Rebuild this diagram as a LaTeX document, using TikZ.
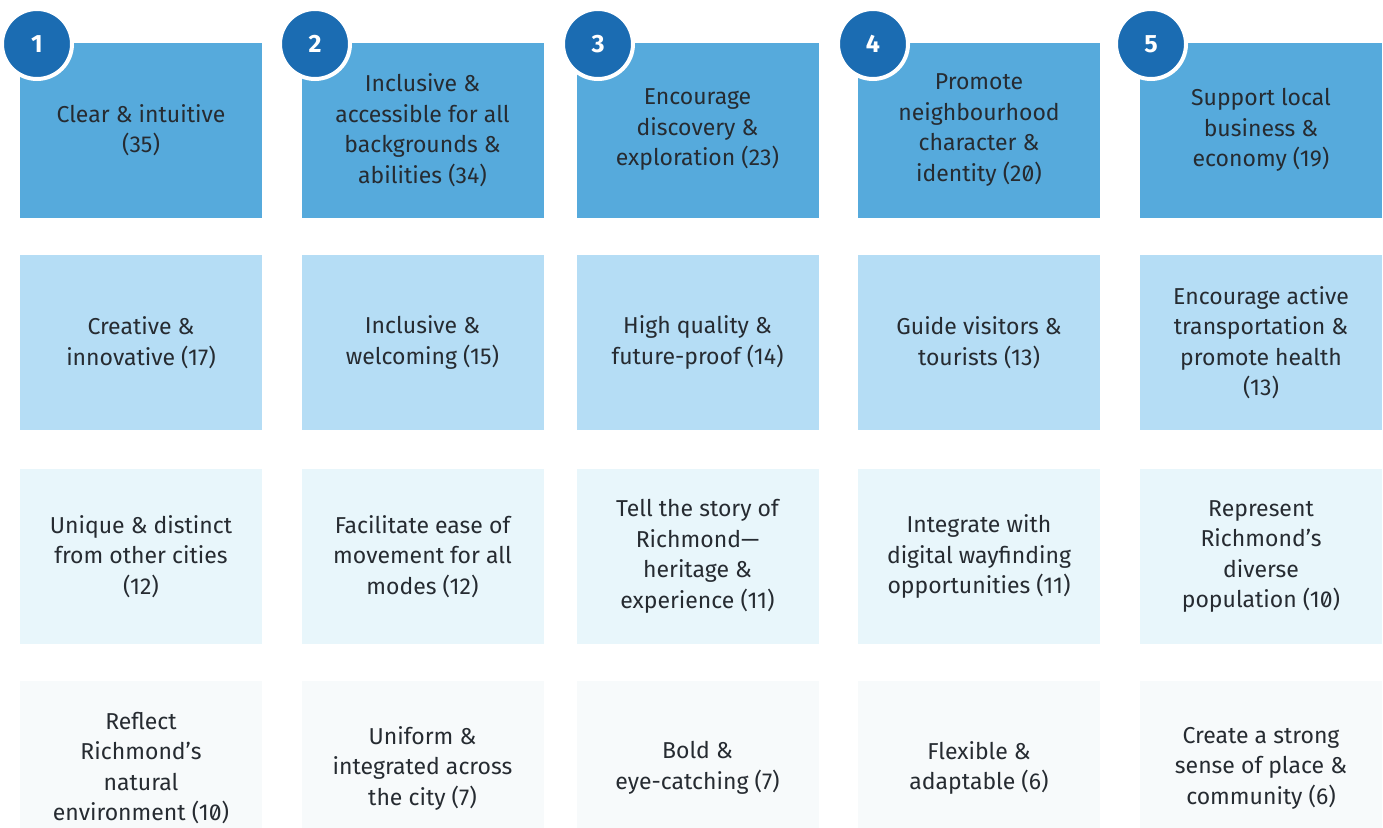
\documentclass[tikz,border=0pt]{standalone}
\usepackage{fontspec}
\setmainfont{Fira Sans}[RawFeature=+zero]
\definecolor{rowA}{HTML}{56AADC}
\definecolor{rowB}{HTML}{B5DDF5}
\definecolor{rowC}{HTML}{E8F6FB}
\definecolor{rowD}{HTML}{F7FAFB}
\definecolor{badge}{HTML}{1B6CB2}
\definecolor{ink}{HTML}{262B31}
\tikzset{
  cell/.style={rectangle, minimum width=242pt, minimum height=175pt, inner sep=0pt,
    align=center, text=ink, font=\fontsize{23}{30.5}\selectfont},
  badgenum/.style={circle, fill=badge, draw=white, line width=4pt, minimum size=70pt,
    inner sep=0pt, text=white, font=\fontsize{25}{25}\selectfont\bfseries}
}
\begin{document}
\begin{tikzpicture}[x=1pt,y=-1pt]
\useasboundingbox (0,0) rectangle (1383,827);
\fill[white] (0,0) rectangle (1383,827);

\node[cell, fill=rowA] (top1) at (141,130) {Clear \& intuitive\\(35)};
\node[cell, fill=rowA] (top2) at (422.5,130) {Inclusive \&\\accessible for all\\backgrounds \&\\abilities (34)};
\node[cell, fill=rowA] (top3) at (697.5,130) {Encourage\\discovery \&\\exploration (23)};
\node[cell, fill=rowA] (top4) at (979,130) {Promote\\neighbourhood\\character \&\\identity (20)};
\node[cell, fill=rowA] (top5) at (1261,130) {Support local\\business \&\\economy (19)};

\node[cell, fill=rowB] (mid1) at (141,342.5) {Creative \&\\innovative (17)};
\node[cell, fill=rowB] (mid2) at (422.5,342.5) {Inclusive \&\\welcoming (15)};
\node[cell, fill=rowB] (mid3) at (697.5,342.5) {High quality \&\\future-proof (14)};
\node[cell, fill=rowB] (mid4) at (979,342.5) {Guide visitors \&\\tourists (13)};
\node[cell, fill=rowB] (mid5) at (1261,342.5) {Encourage active\\transportation \&\\promote health\\(13)};

\node[cell, fill=rowC] (low1) at (141,556.5) {Unique \& distinct\\from other cities\\(12)};
\node[cell, fill=rowC] (low2) at (422.5,556.5) {Facilitate ease of\\movement for all\\modes (12)};
\node[cell, fill=rowC] (low3) at (697.5,556.5) {Tell the story of\\Richmond---\\heritage \&\\experience (11)};
\node[cell, fill=rowC] (low4) at (979,556.5) {Integrate with\\digital wayfinding\\opportunities (11)};
\node[cell, fill=rowC] (low5) at (1261,556.5) {Represent\\Richmond's\\diverse\\population (10)};

\node[cell, fill=rowD] (end1) at (141,768) {Reflect\\Richmond's\\natural\\environment (10)};
\node[cell, fill=rowD] (end2) at (422.5,768) {Uniform \&\\integrated across\\the city (7)};
\node[cell, fill=rowD] (end3) at (697.5,768) {Bold \&\\eye-catching (7)};
\node[cell, fill=rowD] (end4) at (979,768) {Flexible \&\\adaptable (6)};
\node[cell, fill=rowD] (end5) at (1261,768) {Create a strong\\sense of place \&\\community (6)};

\node[badgenum] (num1) at (37,44) {1};
\node[badgenum] (num2) at (315,44) {2};
\node[badgenum] (num3) at (598,44) {3};
\node[badgenum] (num4) at (873,44) {4};
\node[badgenum] (num5) at (1151,44) {5};
\end{tikzpicture}
\end{document}
